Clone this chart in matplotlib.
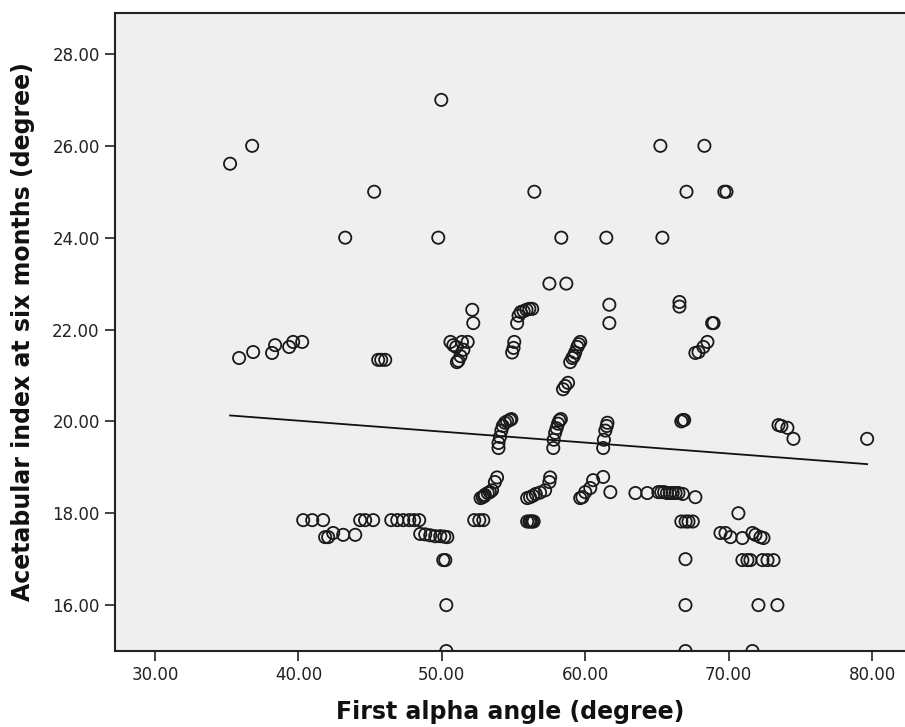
import matplotlib
matplotlib.use("Agg")
import matplotlib.pyplot as plt
import numpy as np

#-------------------- DATA -------------------#
# first alpha angle (degree)
alpha = [
    # isolated points
    35.23, 36.77, 49.96, 45.28, 43.26, 49.75, 56.45, 58.33, 57.5, 58.68,
    61.47, 65.24, 65.38, 68.31, 67.06, 69.7, 69.85,
    # ~21.5 band
    35.86, 36.84, 38.16, 38.37, 39.35, 39.63, 40.26,
    45.56, 45.77, 46.05,
    52.12, 52.19,
    50.6, 50.8, 51.0, 51.4, 51.8, 51.5, 51.3, 51.15, 51.05,
    55.25, 55.35, 55.5, 55.7, 55.9, 56.1, 56.3,
    54.9, 55.0, 55.05,
    58.95, 59.1, 59.2, 59.3, 59.45, 59.55, 59.65,
    58.45, 58.6, 58.8,
    61.68, 61.68,
    66.57, 66.57,
    67.68, 67.9, 68.24, 68.52, 68.85, 68.95,
    # ~20 band
    53.95, 53.95, 54.05, 54.15, 54.25, 54.4, 54.55, 54.75, 54.85,
    57.77, 57.8, 57.9, 58.0, 58.1, 58.2, 58.3,
    61.25, 61.3, 61.4, 61.5, 61.55,
    66.7, 66.8, 66.9,
    73.48, 73.68, 74.1, 74.52, 79.66,
    # ~18.5 band
    52.7, 52.85, 52.95, 53.0, 53.2, 53.35, 53.5, 53.7, 53.85,
    55.95, 56.15, 56.35, 56.55, 56.85, 57.2, 57.5, 57.55,
    59.65, 59.8, 60.0, 60.35, 60.55, 61.25, 61.75,
    63.5, 64.33,
    65.1, 65.3, 65.5, 65.7, 65.9, 66.1, 66.3, 66.5, 66.8,
    67.68,
    # ~17.8 band
    40.33, 40.96, 41.72,
    44.3, 44.65, 45.21,
    46.47, 46.89, 47.31, 47.73, 48.07, 48.42,
    52.26, 52.61, 52.89,
    55.95, 56.1, 56.2, 56.3, 56.4,
    66.7, 67.0, 67.2, 67.5,
    # ~17.5 band
    41.86, 42.07, 42.42, 43.12, 43.96,
    48.49, 48.84, 49.19, 49.54, 49.89, 50.17, 50.38,
    69.43, 69.78, 70.13, 70.96, 71.66, 71.87, 72.22, 72.43,
    70.68,
    # ~17 and below
    50.1, 50.24, 50.31, 50.31,
    70.96, 71.31, 71.52, 72.36, 72.71, 73.13,
    66.99, 66.99, 72.08, 73.4,
    66.99, 71.66,
]

# acetabular index at six months (degree)
ai = [
    25.61, 26.0, 27.0, 25.0, 24.0, 24.0, 25.0, 24.0, 23.0, 23.0,
    24.0, 26.0, 24.0, 26.0, 25.0, 25.0, 25.0,
    21.38, 21.51, 21.49, 21.66, 21.62, 21.73, 21.73,
    21.34, 21.34, 21.34,
    22.43, 22.14,
    21.73, 21.66, 21.62, 21.73, 21.73, 21.56, 21.42, 21.32, 21.29,
    22.14, 22.3, 22.38, 22.4, 22.43, 22.45, 22.45,
    21.5, 21.6, 21.73,
    21.29, 21.38, 21.42, 21.5, 21.62, 21.68, 21.73,
    20.7, 20.77, 20.84,
    22.54, 22.14,
    22.6, 22.5,
    21.49, 21.51, 21.62, 21.73, 22.14, 22.14,
    19.42, 19.53, 19.66, 19.8, 19.9, 19.97, 20.0, 20.03, 20.05,
    19.42, 19.6, 19.75, 19.85, 19.95, 20.02, 20.05,
    19.42, 19.6, 19.8, 19.9, 19.97,
    20.0, 20.03, 20.03,
    19.92, 19.9, 19.86, 19.62, 19.62,
    18.33, 18.35, 18.37, 18.4, 18.44, 18.46, 18.5, 18.68, 18.78,
    18.33, 18.35, 18.38, 18.42, 18.45, 18.5, 18.68, 18.78,
    18.33, 18.35, 18.46, 18.55, 18.72, 18.79, 18.46,
    18.44, 18.44,
    18.46, 18.46, 18.46, 18.44, 18.44, 18.44, 18.44, 18.44, 18.42,
    18.35,
    17.85, 17.85, 17.85,
    17.85, 17.85, 17.85,
    17.85, 17.85, 17.85, 17.85, 17.85, 17.85,
    17.85, 17.85, 17.85,
    17.82, 17.82, 17.82, 17.82, 17.82,
    17.82, 17.82, 17.82, 17.82,
    17.48, 17.48, 17.57, 17.53, 17.53,
    17.55, 17.54, 17.52, 17.5, 17.5, 17.49, 17.48,
    17.57, 17.57, 17.48, 17.46, 17.57, 17.53, 17.48, 17.46,
    18.0,
    16.98, 16.98, 16.0, 15.0,
    16.98, 16.98, 16.98, 16.98, 16.98, 16.98,
    17.0, 16.0, 16.0, 16.0,
    15.0, 15.0,
]

# fit line
fit_intercept = 20.97
fit_slope = -0.02386

x_ticks = [30, 40, 50, 60, 70, 80]
y_ticks = [16, 18, 20, 22, 24, 26, 28]

#------------------ PLOT DATA GRAPH -------------------#
fig = plt.figure(figsize=(9.05, 7.27), dpi=100)
ax = fig.add_axes([0.127, 0.1045, 0.873, 0.8775])
ax.set_facecolor('#efefef')

ax.scatter(alpha, ai, s=8.8**2, facecolors='none', edgecolors='#1a1a1a',
           linewidths=1.3, zorder=3, clip_on=True)

xs = np.array([min(alpha), max(alpha)])
ax.plot(xs, fit_intercept + fit_slope * xs, color='#111111', lw=1.3, zorder=4)

ax.set_xlim(27.2, 82.3)
ax.set_ylim(15.0, 28.89)
ax.set_xticks(x_ticks)
ax.set_yticks(y_ticks)
ax.set_xticklabels(['%.2f' % v for v in x_ticks], fontsize=12, color='#222222')
ax.set_yticklabels(['%.2f' % v for v in y_ticks], fontsize=12, color='#222222')
ax.tick_params(direction='out', length=7, width=1.2, color='#222222', pad=4)

for side in ['left', 'bottom', 'top']:
    ax.spines[side].set_linewidth(1.5)
    ax.spines[side].set_color('#222222')
ax.spines['right'].set_visible(False)

ax.set_xlabel('First alpha angle (degree)', fontsize=17, fontweight='bold',
              color='#111111', labelpad=11)
ax.set_ylabel('Acetabular index at six months (degree)', fontsize=17,
              fontweight='bold', color='#111111', labelpad=12)

plt.savefig('out.png', dpi=100)
